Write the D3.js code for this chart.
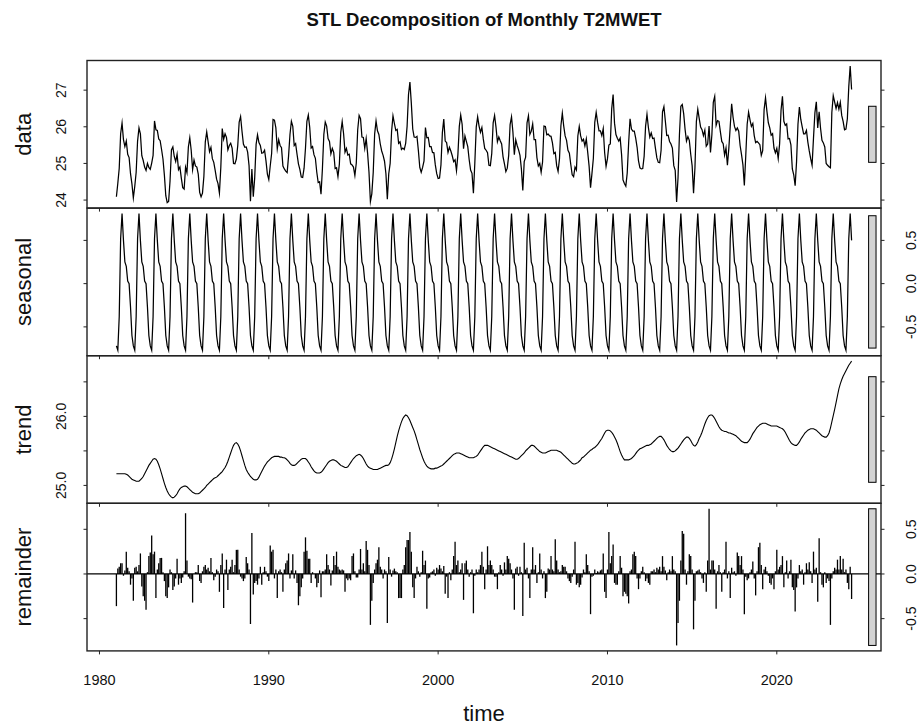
<!DOCTYPE html>
<html>
<head>
<meta charset="utf-8">
<script src="https://cdn.jsdelivr.net/npm/d3@7"></script>
<style>
  body { margin: 0; background: #fff; }
  svg { display: block; }
  text { font-family: "Liberation Sans", Arial, sans-serif; fill: #111; }
</style>
</head>
<body>
<script>
// monthly series, Jan 1981 .. Jun 2024
const startYear = 1981
const monthsPerYear = 12

// seasonal component (Jan..Dec), repeats every year
const seasonalPattern = [-0.72, -0.77, -0.38, 0.52, 0.81, 0.50, 0.25, 0.20, 0.03, 0.00, -0.27, -0.60]

// trend component, one row per year
const trend = [
  25.17, 25.17, 25.17, 25.17, 25.17, 25.17, 25.17, 25.16, 25.15, 25.13, 25.11, 25.09,
  25.08, 25.07, 25.06, 25.06, 25.06, 25.08, 25.10, 25.13, 25.17, 25.21, 25.25, 25.29,
  25.32, 25.35, 25.38, 25.39, 25.38, 25.35, 25.30, 25.24, 25.17, 25.10, 25.03, 24.97,
  24.92, 24.88, 24.85, 24.83, 24.82, 24.83, 24.85, 24.88, 24.92, 24.95, 24.97, 24.98,
  24.99, 24.99, 24.98, 24.96, 24.94, 24.92, 24.90, 24.89, 24.88, 24.88, 24.88, 24.89,
  24.91, 24.93, 24.95, 24.97, 25.00, 25.02, 25.04, 25.06, 25.08, 25.10, 25.11, 25.12,
  25.14, 25.16, 25.18, 25.20, 25.23, 25.26, 25.30, 25.35, 25.41, 25.47, 25.53, 25.58,
  25.61, 25.62, 25.60, 25.56, 25.50, 25.43, 25.36, 25.29, 25.23, 25.19, 25.16, 25.13,
  25.11, 25.09, 25.08, 25.08, 25.09, 25.12, 25.16, 25.20, 25.24, 25.28, 25.31, 25.34,
  25.36, 25.38, 25.40, 25.41, 25.42, 25.42, 25.42, 25.42, 25.41, 25.41, 25.40, 25.40,
  25.39, 25.37, 25.35, 25.32, 25.30, 25.29, 25.29, 25.30, 25.32, 25.34, 25.36, 25.38,
  25.39, 25.39, 25.39, 25.37, 25.34, 25.31, 25.27, 25.24, 25.21, 25.19, 25.18, 25.18,
  25.18, 25.19, 25.21, 25.24, 25.27, 25.30, 25.33, 25.35, 25.36, 25.37, 25.37, 25.36,
  25.35, 25.33, 25.31, 25.29, 25.28, 25.27, 25.26, 25.26, 25.27, 25.30, 25.33, 25.36,
  25.39, 25.41, 25.43, 25.44, 25.45, 25.44, 25.42, 25.39, 25.35, 25.31, 25.28, 25.26,
  25.25, 25.24, 25.23, 25.23, 25.23, 25.23, 25.24, 25.25, 25.26, 25.27, 25.28, 25.29,
  25.29, 25.30, 25.33, 25.38, 25.45, 25.53, 25.62, 25.71, 25.79, 25.86, 25.92, 25.97,
  26.00, 26.02, 26.01, 25.98, 25.94, 25.89, 25.84, 25.79, 25.73, 25.66, 25.59, 25.52,
  25.46, 25.40, 25.35, 25.31, 25.28, 25.26, 25.25, 25.24, 25.24, 25.24, 25.25, 25.25,
  25.26, 25.27, 25.28, 25.29, 25.31, 25.33, 25.35, 25.37, 25.39, 25.41, 25.43, 25.45,
  25.46, 25.47, 25.47, 25.47, 25.46, 25.45, 25.44, 25.43, 25.42, 25.41, 25.40, 25.40,
  25.40, 25.40, 25.41, 25.42, 25.44, 25.47, 25.50, 25.53, 25.56, 25.58, 25.58, 25.58,
  25.57, 25.56, 25.55, 25.54, 25.53, 25.52, 25.51, 25.50, 25.49, 25.48, 25.47, 25.46,
  25.45, 25.44, 25.43, 25.42, 25.41, 25.40, 25.39, 25.38, 25.38, 25.39, 25.41, 25.43,
  25.45, 25.47, 25.50, 25.52, 25.54, 25.56, 25.58, 25.58, 25.57, 25.55, 25.53, 25.51,
  25.49, 25.48, 25.47, 25.47, 25.47, 25.48, 25.49, 25.50, 25.51, 25.51, 25.51, 25.51,
  25.51, 25.50, 25.49, 25.48, 25.46, 25.44, 25.42, 25.40, 25.38, 25.36, 25.34, 25.32,
  25.31, 25.31, 25.32, 25.33, 25.35, 25.37, 25.40, 25.41, 25.43, 25.45, 25.47, 25.49,
  25.51, 25.52, 25.54, 25.55, 25.57, 25.59, 25.62, 25.65, 25.68, 25.72, 25.76, 25.79,
  25.80, 25.80, 25.79, 25.77, 25.74, 25.70, 25.66, 25.61, 25.55, 25.49, 25.44, 25.40,
  25.37, 25.37, 25.37, 25.37, 25.38, 25.39, 25.41, 25.43, 25.46, 25.49, 25.51, 25.53,
  25.54, 25.55, 25.56, 25.57, 25.58, 25.58, 25.59, 25.60, 25.62, 25.64, 25.66, 25.68,
  25.70, 25.71, 25.71, 25.69, 25.66, 25.62, 25.58, 25.55, 25.52, 25.50, 25.49, 25.49,
  25.50, 25.52, 25.54, 25.57, 25.60, 25.63, 25.66, 25.68, 25.70, 25.70, 25.68, 25.65,
  25.61, 25.58, 25.57, 25.59, 25.63, 25.68, 25.72, 25.77, 25.83, 25.89, 25.94, 25.98,
  26.01, 26.02, 26.02, 26.00, 25.97, 25.93, 25.89, 25.85, 25.82, 25.80, 25.79, 25.78,
  25.78, 25.77, 25.76, 25.76, 25.75, 25.74, 25.73, 25.72, 25.70, 25.68, 25.66, 25.64,
  25.63, 25.62, 25.62, 25.62, 25.64, 25.67, 25.71, 25.75, 25.78, 25.81, 25.84, 25.86,
  25.88, 25.89, 25.90, 25.90, 25.90, 25.89, 25.88, 25.87, 25.86, 25.86, 25.86, 25.86,
  25.86, 25.85, 25.84, 25.83, 25.82, 25.80, 25.77, 25.73, 25.69, 25.65, 25.62, 25.60,
  25.59, 25.58, 25.58, 25.60, 25.63, 25.67, 25.70, 25.73, 25.76, 25.78, 25.80, 25.81,
  25.82, 25.82, 25.82, 25.81, 25.80, 25.78, 25.76, 25.74, 25.72, 25.71, 25.70, 25.70,
  25.72, 25.76, 25.83, 25.92, 26.01, 26.10, 26.20, 26.30, 26.40, 26.47, 26.53, 26.58,
  26.62, 26.66, 26.70, 26.74, 26.77, 26.80
]

// remainder component, one row per year
const remainder = [
  -0.36, 0.06, 0.08, 0.12, 0.12, -0.02, 0.04, 0.25, 0.07, 0.03, -0.12, -0.05,
  -0.30, 0.07, 0.08, 0.03, 0.10, 0.23, -0.14, -0.25, -0.30, -0.40, 0.02, 0.20,
  0.24, 0.43, 0.22, 0.25, -0.27, 0.05, 0.12, 0.18, 0.18, 0.02, -0.08, -0.25,
  -0.27, -0.15, 0.05, 0.02, -0.18, -0.14, -0.05, 0.17, -0.12, -0.05, -0.10, -0.04,
  0.03, 0.68, 0.15, -0.03, -0.05, -0.06, -0.32, 0.00, 0.02, 0.02, 0.10, -0.08,
  -0.10, 0.03, 0.08, 0.10, 0.05, 0.07, 0.03, 0.18, 0.02, -0.07, -0.03, 0.05,
  0.03, -0.20, 0.10, 0.23, -0.38, 0.05, 0.16, -0.18, 0.05, 0.08, 0.16, 0.02,
  0.10, 0.27, 0.27, 0.05, -0.03, -0.05, -0.08, -0.05, 0.19, 0.12, 0.05, -0.56,
  0.46, -0.23, -0.10, -0.08, -0.12, -0.05, 0.08, -0.12, 0.02, 0.08, 0.03, -0.03,
  -0.08, 0.32, 0.25, 0.27, -0.05, 0.05, -0.27, 0.03, 0.05, 0.02, -0.20, 0.05,
  0.12, 0.15, 0.23, -0.05, 0.04, 0.22, -0.05, 0.04, -0.10, -0.35, -0.25, -0.15,
  -0.05, 0.25, 0.41, 0.26, 0.17, 0.17, -0.10, 0.02, 0.00, -0.05, -0.15, -0.10,
  0.04, -0.26, 0.03, 0.03, 0.05, 0.22, 0.10, 0.05, -0.13, 0.04, 0.20, 0.10,
  0.25, 0.08, 0.05, 0.04, 0.05, 0.04, -0.20, -0.05, -0.07, -0.05, -0.07, 0.20,
  0.23, 0.03, -0.04, -0.04, 0.05, 0.28, 0.05, 0.12, 0.03, 0.37, 0.27, 0.10,
  -0.57, -0.30, -0.10, 0.05, 0.12, 0.16, 0.30, 0.08, 0.05, -0.05, 0.05, 0.03,
  -0.55, 0.19, 0.05, -0.03, 0.04, 0.06, 0.03, 0.02, -0.27, -0.27, -0.27, 0.05,
  0.10, 0.30, 0.38, 0.38, 0.47, 0.25, -0.15, -0.27, -0.05, 0.08, 0.03, -0.03,
  0.02, 0.26, 0.10, 0.15, -0.39, -0.05, -0.04, 0.02, 0.03, 0.05, -0.02, 0.07,
  0.05, 0.10, 0.06, 0.03, 0.09, -0.22, -0.03, -0.27, 0.02, -0.07, 0.05, 0.20,
  0.36, 0.10, 0.15, 0.02, 0.05, 0.12, -0.29, 0.12, 0.15, 0.05, -0.03, 0.02,
  0.05, -0.44, -0.02, 0.05, 0.02, 0.05, 0.10, 0.25, 0.08, -0.17, 0.05, 0.31,
  0.10, 0.15, 0.10, 0.05, -0.03, -0.03, -0.17, 0.02, 0.10, 0.05, -0.02, 0.13,
  0.05, 0.20, 0.17, 0.12, 0.05, -0.05, -0.40, 0.06, 0.08, -0.02, 0.08, 0.02,
  -0.47, 0.35, 0.05, 0.07, -0.05, -0.27, 0.05, 0.30, 0.05, 0.10, -0.10, 0.02,
  0.23, 0.05, -0.05, 0.03, -0.27, -0.20, 0.06, 0.05, 0.20, 0.05, 0.03, 0.39,
  0.15, 0.05, 0.02, 0.03, 0.10, 0.08, 0.08, 0.03, -0.05, -0.08, -0.10, -0.03,
  0.05, 0.36, -0.12, -0.10, -0.15, -0.12, -0.04, 0.05, 0.02, 0.22, 0.10, 0.03,
  -0.45, -0.03, -0.02, 0.05, 0.01, 0.03, 0.02, 0.04, 0.05, 0.23, -0.20, -0.27,
  0.05, 0.47, 0.12, 0.20, 0.33, -0.10, -0.12, -0.12, 0.03, 0.20, 0.07, -0.25,
  -0.20, -0.22, -0.25, -0.33, 0.03, 0.05, 0.22, 0.25, 0.20, -0.05, -0.17, -0.05,
  0.03, 0.08, 0.02, -0.08, -0.05, -0.10, -0.12, 0.03, 0.03, 0.05, 0.02, 0.07,
  0.05, 0.08, 0.03, 0.20, 0.08, 0.04, -0.07, 0.02, 0.05, 0.03, 0.20, 0.05,
  0.03, -0.80, -0.55, -0.30, 0.15, 0.48, 0.45, 0.05, -0.12, 0.03, 0.22, 0.20,
  0.05, -0.62, -0.30, 0.03, 0.04, 0.05, 0.02, -0.05, -0.10, 0.02, -0.20, 0.15,
  0.73, 0.05, 0.15, 0.15, 0.05, -0.39, 0.03, 0.10, 0.02, -0.20, 0.02, 0.05,
  0.36, -0.05, 0.03, -0.27, 0.07, 0.02, 0.03, -0.02, 0.24, 0.20, 0.10, 0.20,
  0.05, -0.45, -0.03, -0.07, -0.05, 0.02, 0.05, 0.14, -0.05, -0.24, 0.03, 0.30,
  0.35, 0.10, -0.17, 0.05, 0.08, 0.03, -0.02, -0.10, -0.12, -0.05, -0.17, 0.03,
  0.27, 0.05, 0.08, 0.10, 0.20, -0.15, 0.02, 0.15, -0.05, 0.03, 0.16, -0.15,
  -0.18, -0.42, -0.15, -0.05, 0.10, 0.03, 0.05, -0.12, 0.02, 0.12, 0.05, 0.13,
  0.03, -0.10, 0.25, 0.05, 0.07, -0.31, 0.40, 0.02, -0.12, -0.15, 0.02, -0.10,
  -0.05, -0.08, -0.57, -0.05, 0.03, 0.07, 0.05, 0.16, 0.05, 0.20, 0.05, 0.17,
  0.02, 0.05, -0.10, -0.17, 0.08, -0.28
]

const panelLabels = ["data", "seasonal", "trend", "remainder"]
const yearTicks = [1980, 1990, 2000, 2010, 2020]
const dataTicks = [24, 25, 26, 27]
const seasonalTicks = [-0.5, 0, 0.5]
const trendTicks = [25, 25.5, 26, 26.5]
const trendTickLabels = [25, 26]
const remainderTicks = [-0.5, 0, 0.5]

const width = 920, height = 725
const plotLeft = 87, plotRight = 881, plotTop = 60.5, panelHeight = 147.6
const tickLen = 3.5

const n = trend.length
const time = d3.range(n).map(i => startYear + i / monthsPerYear)
const seasonal = d3.range(n).map(i => seasonalPattern[i % monthsPerYear])
// the data row is the sum of the three components, as in plot.stl
const data = d3.range(n).map(i => seasonal[i] + trend[i] + remainder[i])

const series = [data, seasonal, trend, remainder]
const ticks = [dataTicks, seasonalTicks, trendTicks, remainderTicks]
const labelled = [dataTicks, seasonalTicks, trendTickLabels, remainderTicks]
const fmt = [d => String(d), d => d.toFixed(1), d => d.toFixed(1), d => d.toFixed(1)]
const lineWidths = [1.25, 1.25, 1.1]

const span = time[n - 1] - time[0]
const x = d3.scaleLinear()
  .domain([time[0] - 0.04 * span, time[n - 1] + 0.04 * span])
  .range([plotLeft, plotRight])

// range bars all have the height of the smallest component range
const minRange = d3.min(series, s => { const e = d3.extent(s); return e[1] - e[0] })

const svg = d3.select("body").append("svg")
  .attr("width", width)
  .attr("height", height)

svg.append("text")
  .attr("x", (plotLeft + plotRight) / 2)
  .attr("y", 26)
  .attr("text-anchor", "middle")
  .style("font-weight", "bold")
  .style("font-size", "18.5px")
  .text("STL Decomposition of Monthly T2MWET")

series.forEach((s, i) => {
  const top = plotTop + i * panelHeight
  const bottom = top + panelHeight
  const ext = d3.extent(s)
  const pad = 0.04 * (ext[1] - ext[0])
  const y = d3.scaleLinear().domain([ext[0] - pad, ext[1] + pad]).range([bottom, top])
  const g = svg.append("g")

  if (i < 3) {
    const line = d3.line().x((d, j) => x(time[j])).y(d => y(d))
    g.append("path")
      .datum(s)
      .attr("d", line)
      .attr("fill", "none")
      .attr("stroke", "#000")
      .attr("stroke-width", lineWidths[i])
      .attr("stroke-miterlimit", 10)
  } else {
    g.selectAll("line.spike")
      .data(s)
      .join("line")
      .attr("class", "spike")
      .attr("x1", (d, j) => x(time[j]))
      .attr("x2", (d, j) => x(time[j]))
      .attr("y1", y(0))
      .attr("y2", d => y(d))
      .attr("stroke", "#000")
      .attr("stroke-width", 1.3)
    g.append("line")
      .attr("x1", plotLeft).attr("x2", plotRight)
      .attr("y1", y(0)).attr("y2", y(0))
      .attr("stroke", "#000")
      .attr("stroke-width", 1.2)
  }

  // range bar
  const dx = (plotRight - plotLeft) / 64
  const mid = (ext[0] + ext[1]) / 2
  g.append("rect")
    .attr("x", plotRight - dx)
    .attr("width", 0.6 * dx)
    .attr("y", y(mid + minRange / 2))
    .attr("height", y(mid - minRange / 2) - y(mid + minRange / 2))
    .attr("fill", "#d3d3d3")
    .attr("stroke", "#000")
    .attr("stroke-width", 1)

  // box
  g.append("rect")
    .attr("x", plotLeft).attr("y", top)
    .attr("width", plotRight - plotLeft).attr("height", panelHeight)
    .attr("fill", "none")
    .attr("stroke", "#222")
    .attr("stroke-width", 1.4)

  // y ticks on both sides
  g.selectAll("line.ltick").data(ticks[i]).join("line")
    .attr("x1", plotLeft - tickLen).attr("x2", plotLeft)
    .attr("y1", d => y(d)).attr("y2", d => y(d))
    .attr("stroke", "#222")
  g.selectAll("line.rtick").data(ticks[i]).join("line")
    .attr("x1", plotRight).attr("x2", plotRight + tickLen)
    .attr("y1", d => y(d)).attr("y2", d => y(d))
    .attr("stroke", "#222")

  // labels: left for odd panels, right for even ones
  const onRight = i % 2 === 1
  g.selectAll("text.ylab").data(labelled[i]).join("text")
    .attr("transform", d => `translate(${onRight ? 911 : 61},${y(d)}) rotate(-90)`)
    .attr("text-anchor", "middle")
    .attr("dy", "0.35em")
    .style("font-size", "14px")
    .text(fmt[i])

  // bottom axis ticks
  g.selectAll("line.xtick").data(yearTicks).join("line")
    .attr("x1", d => x(d)).attr("x2", d => x(d))
    .attr("y1", bottom).attr("y2", bottom + tickLen)
    .attr("stroke", "#222")

  // component name
  svg.append("text")
    .attr("transform", `translate(31,${(top + bottom) / 2}) rotate(-90)`)
    .attr("text-anchor", "middle")
    .style("font-size", "22px")
    .text(panelLabels[i])

  if (i === series.length - 1) {
    g.selectAll("text.xlab").data(yearTicks).join("text")
      .attr("x", d => x(d))
      .attr("y", 685)
      .attr("text-anchor", "middle")
      .style("font-size", "14.5px")
      .text(d => d)
  }
})

svg.append("text")
  .attr("x", (plotLeft + plotRight) / 2)
  .attr("y", 721)
  .attr("text-anchor", "middle")
  .style("font-size", "22px")
  .text("time")
</script>
</body>
</html>
